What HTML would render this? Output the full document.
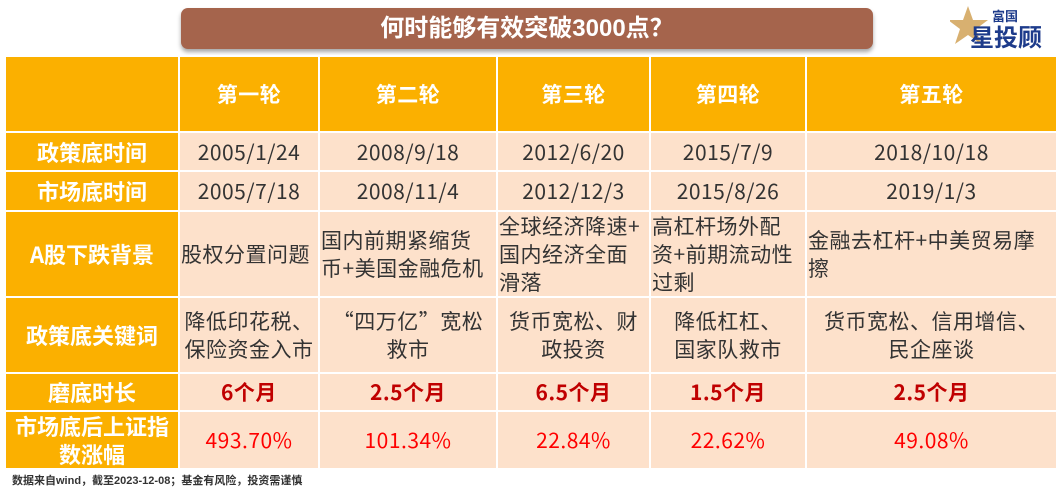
<!DOCTYPE html>
<html><head><meta charset="utf-8"><style>
body{margin:0;width:1059px;height:497px;background:#fff;position:relative;overflow:hidden;font-family:"Liberation Sans","Noto Sans CJK SC",sans-serif}
#title{position:absolute;left:181px;top:8px;width:692px;height:41px;background:#a5644c;border-radius:7px;box-shadow:0 3px 4px rgba(0,0,0,.35);color:#fff;font-size:24px;font-weight:bold;text-align:center;line-height:41px}
#logo{position:absolute;left:950px;top:4px;width:105px;height:46px}
table{position:absolute;left:4px;top:55px;border-collapse:collapse;table-layout:fixed}
td{border:2px solid #fff;padding:0 1px;text-align:center;font-size:21px;color:#333;line-height:28px;background:#fde1cb;font-family:"Noto Sans CJK SC",sans-serif;letter-spacing:0.5px;white-space:nowrap}
td.h{background:#fbb000;color:#fff;font-weight:bold;font-size:21px}
td.r{background:#fbb000;color:#fff;font-weight:bold;font-size:22px;letter-spacing:0}
td.d{color:#c00000;font-weight:bold}
td.p{color:#ff0000}
td.l{text-align:left}
#foot{position:absolute;left:12px;top:472px;font-size:11px;color:#333;font-weight:bold}
</style></head><body>
<div id="title">何时能够有效突破3000点？</div>
<svg id="logo" viewBox="0 0 105 46">
<polygon points="18,2 23,16 38,16 26,25 31,40 18,31 5,40 10,25 -2,16 13,16" fill="#d8b070"/>
<text x="42" y="17" font-size="13" font-weight="bold" fill="#1d3b8b" font-family="Noto Sans CJK SC,sans-serif">富国</text>
<text x="20" y="42" font-size="24" font-weight="bold" fill="#1d3b8b" font-family="Noto Sans CJK SC,sans-serif">星投顾</text>
</svg>
<table>
<colgroup><col style="width:174px"><col style="width:140px"><col style="width:178px"><col style="width:153px"><col style="width:156px"><col style="width:251px"></colgroup>
<tr style="height:76px"><td class="h"></td><td class="h">第一轮</td><td class="h">第二轮</td><td class="h">第三轮</td><td class="h">第四轮</td><td class="h">第五轮</td></tr>
<tr style="height:39px"><td class="r">政策底时间</td><td>2005/1/24</td><td>2008/9/18</td><td>2012/6/20</td><td>2015/7/9</td><td>2018/10/18</td></tr>
<tr style="height:40px"><td class="r">市场底时间</td><td>2005/7/18</td><td>2008/11/4</td><td>2012/12/3</td><td>2015/8/26</td><td>2019/1/3</td></tr>
<tr style="height:83px"><td class="r">A股下跌背景</td><td class="l">股权分置问题</td><td class="l">国内前期紧缩货<br>币+美国金融危机</td><td class="l">全球经济降速+<br>国内经济全面<br>滑落</td><td class="l">高杠杆场外配<br>资+前期流动性<br>过剩</td><td class="l">金融去杠杆+中美贸易摩<br>擦</td></tr>
<tr style="height:76px"><td class="r">政策底关键词</td><td>降低印花税、<br>保险资金入市</td><td>“四万亿”宽松<br>救市</td><td>货币宽松、财<br>政投资</td><td>降低杠杠、<br>国家队救市</td><td>货币宽松、信用增信、<br>民企座谈</td></tr>
<tr style="height:38px"><td class="r">磨底时长</td><td class="d">6个月</td><td class="d">2.5个月</td><td class="d">6.5个月</td><td class="d">1.5个月</td><td class="d">2.5个月</td></tr>
<tr style="height:55px"><td class="r">市场底后上证指<br>数涨幅</td><td class="p">493.70%</td><td class="p">101.34%</td><td class="p">22.84%</td><td class="p">22.62%</td><td class="p">49.08%</td></tr>
</table>
<div id="foot">数据来自wind，截至2023-12-08；基金有风险，投资需谨慎</div>
</body></html>
